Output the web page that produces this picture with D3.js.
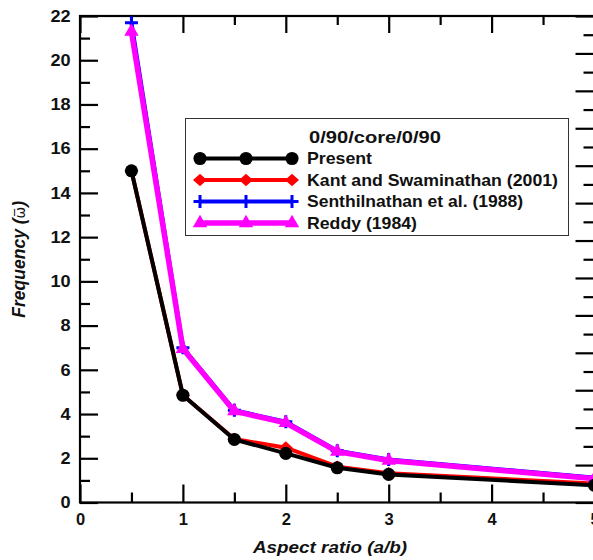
<!DOCTYPE html>
<html>
<head>
<meta charset="utf-8">
<script src="https://cdn.jsdelivr.net/npm/d3@7/dist/d3.min.js"></script>
<style>
  html, body { margin: 0; padding: 0; background: #fff; }
  svg { display: block; font-family: "Liberation Sans", Arial, sans-serif; }
</style>
</head>
<body>
<svg id="chart" width="593" height="560"></svg>
<script>
// Aspect ratios (a/b) and non-dimensional frequencies for the 0/90/core/0/90 sandwich plate
const aspect      = [0.5, 1, 1.5, 2, 2.5, 3, 5];
const present     = [15.0, 4.85, 2.85, 2.22, 1.57, 1.27, 0.78];
const kant        = [15.0, 4.85, 2.87, 2.48, 1.62, 1.32, 0.86];
const senthil     = [21.7, 7.00, 4.17, 3.65, 2.34, 1.95, 1.12];
const reddy       = [21.3, 6.95, 4.13, 3.60, 2.30, 1.90, 1.08];

const xMajor = [0, 1, 2, 3, 4, 5];
const xMinor = [0.5, 1.5, 2.5, 3.5, 4.5];
const yMajor = d3.range(0, 23, 2);
const yMinor = d3.range(1, 22, 2);
const rMajor = d3.range(0, 27, 2);
const rMinor = d3.range(1, 26, 2);

const legendTitle = "0/90/core/0/90";
const seriesNames = ["Present", "Kant and Swaminathan (2001)", "Senthilnathan et al. (1988)", "Reddy (1984)"];

const svg = d3.select("#chart");
const pL = 80, pR = 594.5, pT = 16, pB = 502.5;

const x = d3.scaleLinear().domain([0, 5]).range([pL, pR]);
const y = d3.scaleLinear().domain([0, 22]).range([pB, pT]);
const yR = d3.scaleLinear().domain([0, 26]).range([pB, pT]);

const tickFont = "bold 16.5px 'Liberation Sans', Arial, sans-serif";

function styleAxis(g) {
  g.select(".domain").remove();
  g.selectAll(".tick line").attr("stroke", "#000").attr("stroke-width", 2.2);
  g.selectAll(".tick text").style("font", tickFont).attr("fill", "#111")
    .attr("transform", "scale(1.1,1)");
}

// left axis
svg.append("g").attr("transform", `translate(${pL},0)`)
  .call(d3.axisLeft(y).tickValues(yMajor).tickSize(-18).tickPadding(8.5).tickFormat(d3.format("d")))
  .call(styleAxis);
svg.append("g").attr("transform", `translate(${pL},0)`)
  .call(d3.axisLeft(y).tickValues(yMinor).tickSize(-10).tickFormat(""))
  .call(styleAxis);

// right axis (ticks only)
svg.append("g").attr("transform", `translate(${pR},0)`)
  .call(d3.axisRight(yR).tickValues(rMajor).tickSize(-19).tickFormat(""))
  .call(styleAxis);
svg.append("g").attr("transform", `translate(${pR},0)`)
  .call(d3.axisRight(yR).tickValues(rMinor).tickSize(-11).tickFormat(""))
  .call(styleAxis);

// bottom axis
svg.append("g").attr("transform", `translate(0,${pB})`)
  .call(d3.axisBottom(x).tickValues(xMajor).tickSize(-18).tickPadding(11).tickFormat(d3.format("d")))
  .call(styleAxis)
  .call(g => g.selectAll(".tick text").attr("transform", null));
svg.append("g").attr("transform", `translate(0,${pB})`)
  .call(d3.axisBottom(x).tickValues(xMinor).tickSize(-10).tickFormat(""))
  .call(styleAxis);

// top axis (ticks only)
svg.append("g").attr("transform", `translate(0,${pT})`)
  .call(d3.axisTop(x).tickValues(xMajor).tickSize(-17).tickFormat(""))
  .call(styleAxis);
svg.append("g").attr("transform", `translate(0,${pT})`)
  .call(d3.axisTop(x).tickValues(xMinor).tickSize(-9).tickFormat(""))
  .call(styleAxis);

// frame
svg.append("rect")
  .attr("x", pL).attr("y", pT)
  .attr("width", pR - pL).attr("height", pB - pT)
  .attr("fill", "none").attr("stroke", "#000").attr("stroke-width", 2.2);

// axis titles
svg.append("text")
  .attr("x", 253).attr("y", 553)
  .attr("textLength", 154).attr("lengthAdjust", "spacingAndGlyphs")
  .style("font", "italic bold 17px 'Liberation Sans', Arial, sans-serif")
  .attr("fill", "#111")
  .text("Aspect ratio (a/b)");

const yTitle = svg.append("text")
  .attr("transform", `translate(25,${(pT + pB) / 2}) rotate(-90)`)
  .attr("text-anchor", "middle")
  .style("font", "italic bold 17.5px 'Liberation Sans', Arial, sans-serif")
  .attr("fill", "#111");
yTitle.append("tspan").text("Frequency (");
yTitle.append("tspan").style("font-style", "normal").style("font-weight", "normal")
  .style("font-family", "'DejaVu Sans', sans-serif").style("font-size", "14px").text("\u03C9\u0305");
yTitle.append("tspan").text(")");

// marker shapes
const sym = {
  circle: d3.symbol().type(d3.symbolCircle).size(135),
  triangle: d3.symbol().type(d3.symbolTriangle).size(90)
};

function plus(g, cx, cy, color) {
  g.append("path")
    .attr("d", `M${cx - 6.5},${cy}H${cx + 6.5}M${cx},${cy - 6.5}V${cy + 6.5}`)
    .attr("stroke", color).attr("stroke-width", 3).attr("fill", "none");
}

function diamond(g, cx, cy, color) {
  g.append("path")
    .attr("d", `M${cx - 7},${cy}L${cx},${cy - 6.3}L${cx + 7},${cy}L${cx},${cy + 6.3}Z`)
    .attr("fill", color);
}

const series = [
  { vals: kant,    color: "#ff0000", width: 4,   marker: "diamond" },
  { vals: senthil, color: "#0000ff", width: 4,   marker: "plus" },
  { vals: reddy,   color: "#ff00ff", width: 5.5, marker: "triangle" },
  { vals: present, color: "#000000", width: 4,   marker: "circle" }
];

const line = d3.line().x(d => x(d[0])).y(d => y(d[1]));

function drawMarker(g, s, cx, cy) {
  if (s.marker === "plus") { plus(g, cx, cy, s.color); return; }
  if (s.marker === "diamond") { diamond(g, cx, cy, s.color); return; }
  g.append("path")
    .attr("d", sym[s.marker]())
    .attr("transform", `translate(${cx},${cy})`)
    .attr("fill", s.color);
}

const plotG = svg.append("g");
series.forEach(s => {
  const pts = aspect.map((a, i) => [a, s.vals[i]]);
  plotG.append("path").datum(pts)
    .attr("d", line).attr("fill", "none")
    .attr("stroke", s.color).attr("stroke-width", s.width)
    .attr("stroke-linejoin", "round");
  pts.forEach(p => drawMarker(plotG, s, x(p[0]), y(p[1])));
});

// legend
const lg = svg.append("g");
lg.append("rect")
  .attr("x", 185.5).attr("y", 118.5).attr("width", 383).attr("height", 117)
  .attr("fill", "#fff").attr("stroke", "#333").attr("stroke-width", 1);
lg.append("text")
  .attr("x", 309).attr("y", 143)
  .attr("textLength", 132).attr("lengthAdjust", "spacingAndGlyphs")
  .style("font", "bold 16.5px 'Liberation Sans', Arial, sans-serif").attr("fill", "#111")
  .text(legendTitle);

const legendOrder = [series[3], series[0], series[1], series[2]];
const baselines = [164, 185.5, 207, 228.5];
const textWidths = [65, 251, 216, 110];
legendOrder.forEach((s, i) => {
  const ly = baselines[i] - 5.5;
  lg.append("line")
    .attr("x1", 200).attr("x2", 292).attr("y1", ly).attr("y2", ly)
    .attr("stroke", s.color).attr("stroke-width", s.width);
  [200, 246, 292].forEach(mx => drawMarker(lg, s, mx, ly));
  lg.append("text")
    .attr("x", 307).attr("y", baselines[i])
    .attr("textLength", textWidths[i]).attr("lengthAdjust", "spacingAndGlyphs")
    .style("font", "bold 16.5px 'Liberation Sans', Arial, sans-serif").attr("fill", "#111")
    .text(seriesNames[i]);
});
</script>
</body>
</html>
